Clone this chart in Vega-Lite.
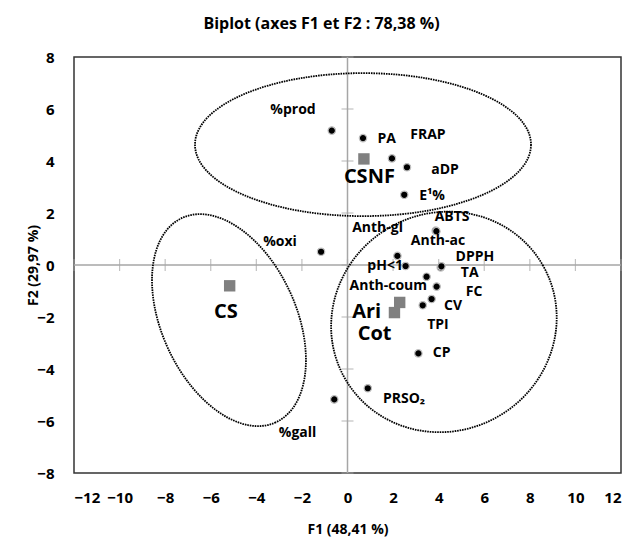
{
  "$schema": "https://vega.github.io/schema/vega-lite/v6.json",
  "width": 547,
  "height": 416,
  "autosize": {"type": "none"},
  "padding": {"left": 74, "top": 57, "right": 11, "bottom": 66},
  "background": "white",
  "title": {
    "text": "Biplot (axes F1 et F2 : 78,38 %)",
    "font": "Open Sans",
    "fontSize": 16,
    "fontWeight": "bold",
    "color": "#000000",
    "anchor": "middle",
    "frame": "group",
    "dx": -26,
    "offset": 18
  },
  "config": {
    "view": {"stroke": "#333333", "strokeWidth": 1.5},
    "axis": {
      "domain": false,
      "ticks": false,
      "tickSize": 0,
      "grid": false,
      "labelFont": "Open Sans",
      "labelFontWeight": "bold",
      "labelFontSize": 15,
      "labelColor": "#000000",
      "titleFont": "Open Sans",
      "titleFontWeight": "bold",
      "titleFontSize": 14,
      "titleColor": "#000000"
    }
  },
  "datasets": {
    "xticks": [{"v": -12}, {"v": -10}, {"v": -8}, {"v": -6}, {"v": -4}, {"v": -2}, {"v": 0}, {"v": 2}, {"v": 4}, {"v": 6}, {"v": 8}, {"v": 10}, {"v": 12}],
    "yticks": [{"v": -8}, {"v": -6}, {"v": -4}, {"v": -2}, {"v": 0}, {"v": 2}, {"v": 4}, {"v": 6}, {"v": 8}],
    "vars": [
      {"name": "%prod", "x": -0.69, "y": 5.17, "lx": -2.39, "ly": 5.96},
      {"name": "PA", "x": 0.68, "y": 4.88, "lx": 1.72, "ly": 4.85},
      {"name": "FRAP", "x": 1.95, "y": 4.1, "lx": 3.53, "ly": 5.0},
      {"name": "aDP", "x": 2.61, "y": 3.76, "lx": 4.28, "ly": 3.65},
      {"name": "E¹%", "x": 2.49, "y": 2.7, "lx": 3.71, "ly": 2.65},
      {"name": "ABTS", "x": 3.87, "y": 1.32, "lx": 4.59, "ly": 1.85},
      {"name": "Anth-ac", "x": 3.9, "y": 1.3, "lx": 3.97, "ly": 0.93},
      {"name": "Anth-gl", "x": 2.19, "y": 0.35, "lx": 1.32, "ly": 1.42},
      {"name": "pH<1", "x": 2.55, "y": -0.04, "lx": 1.65, "ly": -0.04},
      {"name": "DPPH", "x": 4.09, "y": -0.09, "lx": 5.59, "ly": 0.3},
      {"name": "TA", "x": 4.12, "y": -0.05, "lx": 5.36, "ly": -0.32},
      {"name": "Anth-coum", "x": 3.47, "y": -0.45, "lx": 1.79, "ly": -0.81},
      {"name": "FC", "x": 3.91, "y": -0.83, "lx": 5.55, "ly": -1.03},
      {"name": "CV", "x": 3.69, "y": -1.31, "lx": 4.63, "ly": -1.58},
      {"name": "TPI", "x": 3.3, "y": -1.55, "lx": 3.97, "ly": -2.31},
      {"name": "CP", "x": 3.11, "y": -3.4, "lx": 4.13, "ly": -3.4},
      {"name": "%oxi", "x": -1.16, "y": 0.51, "lx": -2.96, "ly": 0.9},
      {"name": "PRSO₂", "x": 0.89, "y": -4.74, "lx": 2.48, "ly": -5.15},
      {"name": "%gall", "x": -0.58, "y": -5.17, "lx": -2.19, "ly": -6.46}
    ],
    "obs": [
      {"name": "CSNF", "x": 0.72, "y": 4.08, "lx": 0.96, "ly": 3.4},
      {"name": "CS", "x": -5.17, "y": -0.8, "lx": -5.34, "ly": -1.8},
      {"name": "Ari", "x": 2.29, "y": -1.44, "lx": 0.84, "ly": -1.8},
      {"name": "Cot", "x": 2.06, "y": -1.83, "lx": 1.19, "ly": -2.65}
    ]
  },
  "encoding": {
    "x": {"type": "quantitative", "scale": {"domain": [-12, 12], "nice": false, "zero": false},
          "axis": {"title": "F1 (48,41 %)", "values": [-12, -10, -8, -6, -4, -2, 0, 2, 4, 6, 8, 10, 12], "labelBaseline": "middle", "labelPadding": 24, "titlePadding": 17}},
    "y": {"type": "quantitative", "scale": {"domain": [-8, 8], "nice": false, "zero": false},
          "axis": {"title": "F2 (29,97 %)", "values": [-8, -6, -4, -2, 0, 2, 4, 6, 8], "labelPadding": 20, "titlePadding": -4}}
  },
  "layer": [
    {
      "data": {"values": [{"z": 0}]},
      "mark": {"type": "rule", "color": "#a6a6a6", "strokeWidth": 1.5},
      "encoding": {"x": {"field": "z"}, "y": null}
    },
    {
      "data": {"values": [{"z": 0}]},
      "mark": {"type": "rule", "color": "#a6a6a6", "strokeWidth": 1.5},
      "encoding": {"y": {"field": "z"}, "x": null}
    },
    {
      "data": {"name": "xticks"},
      "mark": {"type": "tick", "orient": "vertical", "size": 12, "thickness": 1.2, "color": "#a6a6a6"},
      "encoding": {"x": {"field": "v"}, "y": {"datum": 0}}
    },
    {
      "data": {"name": "yticks"},
      "mark": {"type": "tick", "orient": "horizontal", "size": 12, "thickness": 1.2, "color": "#a6a6a6"},
      "encoding": {"y": {"field": "v"}, "x": {"datum": 0}}
    },
    {
      "data": {"values": [{"group": "CSNF", "cx": 0.68, "cy": 4.63}]},
      "mark": {"type": "point", "filled": false, "stroke": "#000000", "strokeWidth": 1.8, "strokeDash": [1.6, 0.9], "opacity": 1,
               "size": 112896,
               "shape": "M1,0C1,0.2351,0.5523,0.4256,0,0.4256C-0.5523,0.4256,-1,0.2351,-1,0C-1,-0.2351,-0.5523,-0.4256,0,-0.4256C0.5523,-0.4256,1,-0.2351,1,0Z"},
      "encoding": {"x": {"field": "cx"}, "y": {"field": "cy"}}
    },
    {
      "data": {"values": [{"group": "CS", "cx": -5.2, "cy": -2.12}]},
      "mark": {"type": "point", "filled": false, "stroke": "#000000", "strokeWidth": 1.8, "strokeDash": [1.6, 0.9], "opacity": 1,
               "size": 50535, "angle": 65.4,
               "shape": "M1,0C1,0.3303,0.5523,0.598,0,0.598C-0.5523,0.598,-1,0.3303,-1,0C-1,-0.3303,-0.5523,-0.598,0,-0.598C0.5523,-0.598,1,-0.3303,1,0Z"},
      "encoding": {"x": {"field": "cx"}, "y": {"field": "cy"}}
    },
    {
      "data": {"values": [{"group": "Ari Cot", "cx": 4.23, "cy": -2.19}]},
      "mark": {"type": "point", "filled": false, "stroke": "#000000", "strokeWidth": 1.8, "strokeDash": [1.6, 0.9], "opacity": 1,
               "size": 51984, "angle": -30,
               "shape": "M1,0C1,0.528,0.5523,0.956,0,0.956C-0.5523,0.956,-1,0.528,-1,0C-1,-0.528,-0.5523,-0.956,0,-0.956C0.5523,-0.956,1,-0.528,1,0Z"},
      "encoding": {"x": {"field": "cx"}, "y": {"field": "cy"}}
    },
    {
      "data": {"name": "vars"},
      "mark": {"type": "point", "filled": true, "shape": "circle", "size": 55, "color": "#000000", "stroke": "#c0c0c0", "strokeWidth": 1.2, "opacity": 1},
      "encoding": {"x": {"field": "x"}, "y": {"field": "y"}}
    },
    {
      "data": {"name": "obs"},
      "mark": {"type": "point", "filled": true, "shape": "square", "size": 130, "color": "#808080", "opacity": 1},
      "encoding": {"x": {"field": "x"}, "y": {"field": "y"}}
    },
    {
      "data": {"name": "vars"},
      "mark": {"type": "text", "font": "Open Sans", "fontWeight": "bold", "fontSize": 14, "color": "#000000", "align": "center", "baseline": "middle"},
      "encoding": {"x": {"field": "lx"}, "y": {"field": "ly"}, "text": {"field": "name"}}
    },
    {
      "data": {"name": "obs"},
      "mark": {"type": "text", "font": "Open Sans", "fontWeight": "bold", "fontSize": 20, "color": "#000000", "align": "center", "baseline": "middle"},
      "encoding": {"x": {"field": "lx"}, "y": {"field": "ly"}, "text": {"field": "name"}}
    }
  ]
}
